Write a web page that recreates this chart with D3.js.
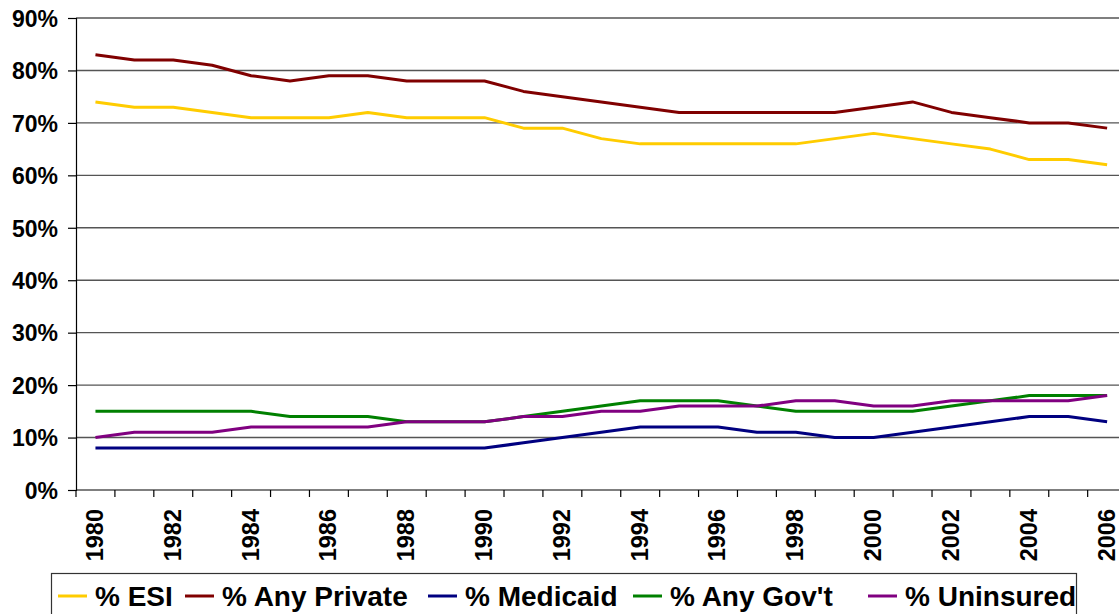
<!DOCTYPE html>
<html>
<head>
<meta charset="utf-8">
<script src="https://cdn.jsdelivr.net/npm/d3@7"></script>
<style>
  html, body { margin: 0; padding: 0; background: #fff; }
  svg { display: block; }
  text { font-family: "Liberation Sans", Arial, sans-serif; font-weight: bold; fill: #000; }
</style>
</head>
<body>
<svg id="chart" width="1119" height="614"></svg>
<script>
const years = d3.range(1980, 2007);
const yearLabels = years.filter(y => y % 2 === 0).map(String);
const yTicks = [0, 0.1, 0.2, 0.3, 0.4, 0.5, 0.6, 0.7, 0.8, 0.9];

const esi        = [74,73,73,72,71,71,71,72,71,71,71,69,69,67,66,66,66,66,66,67,68,67,66,65,63,63,62];
const anyPrivate = [83,82,82,81,79,78,79,79,78,78,78,76,75,74,73,72,72,72,72,72,73,74,72,71,70,70,69];
const medicaid   = [8,8,8,8,8,8,8,8,8,8,8,9,10,11,12,12,12,11,11,10,10,11,12,13,14,14,13];
const anyGovt    = [15,15,15,15,15,14,14,14,13,13,13,14,15,16,17,17,17,16,15,15,15,15,16,17,18,18,18];
const uninsured  = [10,11,11,11,12,12,12,12,13,13,13,14,14,15,15,16,16,16,17,17,16,16,17,17,17,17,18];

const seriesNames  = ["% ESI", "% Any Private", "% Medicaid", "% Any Gov't", "% Uninsured"];
const seriesColors = ["#FFCC00", "#800000", "#000080", "#008000", "#800080"];
const seriesValues = [esi, anyPrivate, medicaid, anyGovt, uninsured];

const svg = d3.select("#chart");
const mLeft = 76, mTop = 18, mBottom = 490;
const band = 38.91;
const mRight = mLeft + band * years.length;

const x = d3.scaleBand().domain(years).range([mLeft, mRight]).paddingInner(0).paddingOuter(0);
const y = d3.scaleLinear().domain([0, 0.9]).range([mBottom, mTop]);

// gridlines
svg.append("g").selectAll("line").data(yTicks.filter(t => t > 0)).join("line")
  .attr("x1", mLeft).attr("x2", 1119)
  .attr("y1", d => y(d)).attr("y2", d => y(d))
  .attr("stroke", "#555").attr("stroke-width", 1.4);

// y axis
const yAxis = d3.axisLeft(y).tickValues(yTicks).tickFormat(d3.format(".0%")).tickSize(8).tickPadding(10);
const gy = svg.append("g").attr("transform", `translate(${mLeft},0)`).call(yAxis);
gy.attr("font-family", null).attr("font-size", null);
gy.select(".domain").attr("stroke", "#000").attr("stroke-width", 1.2);
gy.selectAll(".tick line").attr("stroke", "#000").attr("stroke-width", 1.2);
gy.selectAll(".tick text").style("font-size", "23px").attr("dy", "0.36em");

// x axis: ticks at category boundaries
const gx = svg.append("g").attr("transform", `translate(0,${mBottom})`);
gx.append("line").attr("x1", mLeft).attr("x2", 1119).attr("y1", 0).attr("y2", 0)
  .attr("stroke", "#000").attr("stroke-width", 1.2);
gx.selectAll("line.tk").data(years.concat([years[years.length - 1] + 1])).join("line")
  .attr("class", "tk")
  .attr("x1", (d, i) => mLeft + i * x.bandwidth()).attr("x2", (d, i) => mLeft + i * x.bandwidth())
  .attr("y1", 0).attr("y2", 7).attr("stroke", "#000").attr("stroke-width", 1.2);
gx.selectAll("text").data(yearLabels).join("text")
  .attr("transform", d => `translate(${x(+d) + x.bandwidth() / 2 - 1},19) rotate(-90)`)
  .attr("text-anchor", "end").attr("dy", "0.36em")
  .style("font-size", "23.5px")
  .text(d => d);

// lines
const line = d3.line()
  .x((d, i) => x(years[i]) + x.bandwidth() / 2)
  .y(d => y(d / 100));
svg.append("g").selectAll("path").data(seriesValues).join("path")
  .attr("d", d => line(d))
  .attr("fill", "none")
  .attr("stroke", (d, i) => seriesColors[i])
  .attr("stroke-width", 3)
  .attr("stroke-linejoin", "round");

// legend
const lg = svg.append("g");
lg.append("rect").attr("x", 51.5).attr("y", 573.5).attr("width", 1025).attr("height", 50)
  .attr("fill", "#fff").attr("stroke", "#333").attr("stroke-width", 1.2);
const legendX = [58, 185, 428, 633, 868];
seriesNames.forEach((name, i) => {
  lg.append("line").attr("x1", legendX[i]).attr("x2", legendX[i] + 29)
    .attr("y1", 596).attr("y2", 596)
    .attr("stroke", seriesColors[i]).attr("stroke-width", 3);
  lg.append("text").attr("x", legendX[i] + 37).attr("y", 596).attr("dy", "0.36em")
    .style("font-size", "28px").text(name);
});
</script>
</body>
</html>
